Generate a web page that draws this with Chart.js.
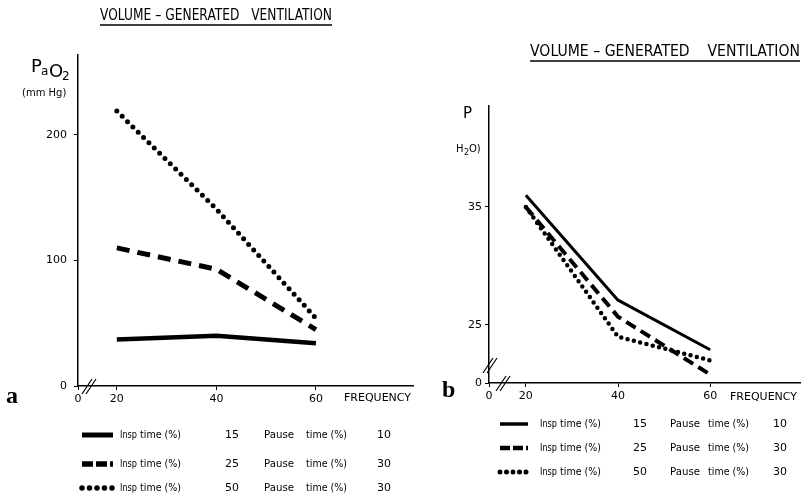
<!DOCTYPE html>
<html>
<head>
<meta charset="utf-8">
<script src="https://cdn.jsdelivr.net/npm/chart.js@4/dist/chart.umd.min.js"></script>
<style>
html, body { margin: 0; padding: 0; background: #fff; }
#wrap { position: relative; width: 805px; height: 493px; overflow: hidden; }
canvas { position: absolute; top: 0; }
#chartA { left: 0; }
#chartB { left: 440px; }
</style>
</head>
<body>
<div id="wrap">
  <canvas id="chartA" width="440" height="493"></canvas>
  <canvas id="chartB" width="365" height="493"></canvas>
</div>
<script>
// frequency (breaths/min) on the x axis
const frequency = [20, 40, 60];
const freqTicks = [20, 40, 60];

// panel a: PaO2 (mm Hg)
const paoInsp15 = [37, 40, 34];
const paoInsp25 = [110, 93, 45];
const paoInsp50 = [219, 141, 54];
const paoTicks = [0, 100, 200];

// panel b: pressure (cm H2O)
const presInsp15 = [36.0, 27.1, 22.9];
const presInsp25 = [35.0, 25.7, 20.8];
const presInsp50 = [35.0, 24.0, 22.0];
const presTicks = [25, 35];

// legend: insp time / pause time (%)
const inspTimes = [15, 25, 50];
const pauseTimes = [10, 30, 30];

const FONT = "'DejaVu Sans', sans-serif";

function pts(arr) {
    return frequency.map((f, i) => ({ x: f, y: arr[i] }));
}

// line styles for the 3 series, per panel
function seriesStyles(big) {
    return [
        { borderWidth: big ? 4.5 : 3, borderDash: [] },
        { borderWidth: big ? 5 : 4, borderDash: big ? [13, 8] : [11, 6] },
        { borderWidth: big ? 5 : 4.5, borderDash: [0, big ? 7.5 : 6.5] }
    ];
}

function makeDatasets(series, big) {
    let styles = seriesStyles(big);
    return series.map((arr, i) => ({
        data: pts(arr),
        borderColor: '#000',
        borderWidth: styles[i].borderWidth,
        borderDash: styles[i].borderDash,
        borderCapStyle: i == 2 ? 'round' : 'butt',
        borderJoinStyle: 'round',
        pointRadius: 0,
        tension: 0,
        fill: false
    }));
}

function breakMark(ctx, cx, cy) {
    ctx.beginPath();
    ctx.moveTo(cx - 6, cy + 8);
    ctx.lineTo(cx + 4, cy - 7);
    ctx.moveTo(cx - 2, cy + 8);
    ctx.lineTo(cx + 8, cy - 7);
    ctx.stroke();
}

// titles, axis names, break marks and the hand-drawn legend
const paperDecor = {
    id: 'paperDecor',
    afterDraw(chart, args, opts) {
        let ctx = chart.ctx;
        let xs = chart.scales.x, ys = chart.scales.y;
        ctx.save();
        ctx.fillStyle = '#000';
        ctx.strokeStyle = '#000';

        // title + underline
        ctx.font = '15px ' + FONT;
        ctx.textBaseline = 'alphabetic';
        ctx.textAlign = 'left';
        ctx.fillText(opts.title.text, opts.title.x, opts.title.y, opts.title.w);
        ctx.lineWidth = 1.3;
        ctx.beginPath();
        ctx.moveTo(opts.title.x, opts.title.y + 5);
        ctx.lineTo(opts.title.x + opts.title.w, opts.title.y + 5);
        ctx.stroke();

        // y axis name pieces
        opts.yName.forEach(p => {
            ctx.font = p.size + 'px ' + FONT;
            ctx.fillText(p.t, p.x, p.y);
        });

        // panel letter
        ctx.font = 'bold 24px "Liberation Serif", serif';
        ctx.fillText(opts.letter.t, opts.letter.x, opts.letter.y);

        // FREQUENCY
        ctx.font = '11px ' + FONT;
        ctx.textBaseline = 'middle';
        ctx.fillText('FREQUENCY', opts.freq.x, opts.freq.y, opts.freq.w);

        // axis breaks
        ctx.lineWidth = 1.2;
        breakMark(ctx, xs.left + opts.xBreak, ys.bottom);
        if (opts.yBreak) {
            breakMark(ctx, xs.left, ys.bottom - opts.yBreak);
        }

        // legend
        let lg = opts.legend;
        chart.data.datasets.forEach((ds, i) => {
            let y = lg.rows[i];
            ctx.save();
            ctx.lineWidth = ds.borderWidth + 0.5;
            ctx.setLineDash(ds.borderDash.length ? (i == 1 ? [lg.dash, 3] : ds.borderDash) : []);
            ctx.lineCap = ds.borderCapStyle;
            ctx.beginPath();
            ctx.moveTo(lg.s1, y);
            ctx.lineTo(lg.s2, y);
            ctx.stroke();
            ctx.restore();

            ctx.font = '10.5px ' + FONT;
            ctx.textBaseline = 'middle';
            ctx.fillText('Insp', lg.c[0], y, 17);
            ctx.fillText('time (%)', lg.c[1], y, 41);
            ctx.font = '11px ' + FONT;
            ctx.fillText(String(inspTimes[i]), lg.c[2], y);
            ctx.font = '10.5px ' + FONT;
            ctx.fillText('Pause', lg.c[3], y, 30);
            ctx.fillText('time (%)', lg.c[4], y, 41);
            ctx.font = '11px ' + FONT;
            ctx.fillText(String(pauseTimes[i]), lg.c[5], y);
        });
        ctx.restore();
    }
};

function axisCommon(tickPad) {
    return {
        type: 'linear',
        grid: { drawOnChartArea: false, drawTicks: true, tickLength: 4, color: '#000', lineWidth: 1 },
        border: { display: true, color: '#000', width: 1.5 },
        ticks: { color: '#000', font: { family: FONT, size: 11 }, padding: tickPad, autoSkip: false, maxRotation: 0 }
    };
}

function buildChart(id, cfg) {
    let xAxis = axisCommon(3);
    xAxis.min = cfg.xMin;
    xAxis.max = cfg.xMax;
    xAxis.afterBuildTicks = s => { s.ticks = [cfg.xMin].concat(freqTicks).map(v => ({ value: v })); };
    xAxis.ticks.callback = function (v) { return v == cfg.xMin ? '0' : v; };
    xAxis.afterFit = s => { s.height = 20; };

    let yAxis = axisCommon(cfg.yPad);
    yAxis.min = cfg.yMin;
    yAxis.max = cfg.yMax;
    yAxis.afterBuildTicks = s => {
        let t = cfg.yTicks.slice();
        if (t[0] != cfg.yMin) t.unshift(cfg.yMin);
        s.ticks = t.map(v => ({ value: v }));
    };
    yAxis.ticks.callback = function (v) { return v == cfg.yMin ? '0' : v; };
    yAxis.afterFit = s => { s.width = cfg.yWidth; };

    return new Chart(document.getElementById(id), {
        type: 'line',
        data: { datasets: makeDatasets(cfg.series, cfg.big) },
        options: {
            responsive: false,
            animation: false,
            devicePixelRatio: 1,
            layout: { padding: cfg.padding },
            scales: { x: xAxis, y: yAxis },
            plugins: {
                legend: { display: false },
                tooltip: { enabled: false },
                paperDecor: cfg.decor
            }
        },
        plugins: [paperDecor]
    });
}

buildChart('chartA', {
    series: [paoInsp15, paoInsp25, paoInsp50],
    big: true,
    xMin: 12.2, xMax: 79.5,
    yMin: 0, yMax: 263.7, yTicks: paoTicks,
    yPad: 7, yWidth: 40,
    padding: { left: 38, right: 27, top: 55, bottom: 87 },
    decor: {
        title: { text: 'VOLUME \u2013 GENERATED   VENTILATION', x: 100, y: 20, w: 232 },
        yName: [
            { t: 'P', x: 31, y: 72, size: 18 },
            { t: 'a', x: 41, y: 75, size: 12 },
            { t: 'O', x: 49, y: 77, size: 18 },
            { t: '2', x: 62, y: 80, size: 12 },
            { t: '(mm Hg)', x: 22, y: 96, size: 10 }
        ],
        letter: { t: 'a', x: 6, y: 403 },
        freq: { x: 344, y: 398, w: 70 },
        xBreak: 10,
        yBreak: 0,
        legend: { s1: 82, s2: 113, dash: 11, rows: [435, 464, 488], c: [120, 140, 225, 264, 306, 377] }
    }
});

buildChart('chartB', {
    series: [presInsp15, presInsp25, presInsp50],
    big: false,
    xMin: 12.0, xMax: 79.5,
    yMin: 20.08, yMax: 43.56, yTicks: presTicks,
    yPad: 3, yWidth: 30,
    padding: { left: 19, right: 5, top: 106, bottom: 90 },
    decor: {
        title: { text: 'VOLUME \u2013 GENERATED    VENTILATION', x: 90, y: 56, w: 270 },
        yName: [
            { t: 'P', x: 23, y: 118, size: 15 },
            { t: 'H', x: 16, y: 152, size: 10 },
            { t: '2', x: 24, y: 155, size: 8 },
            { t: 'O)', x: 29, y: 152, size: 10 }
        ],
        letter: { t: 'b', x: 2, y: 397 },
        freq: { x: 290, y: 397, w: 68 },
        xBreak: 13,
        yBreak: 18,
        legend: { s1: 60, s2: 88, dash: 10, rows: [424, 448, 472], c: [100, 120, 193, 230, 268, 333] }
    }
});
</script>
</body>
</html>
